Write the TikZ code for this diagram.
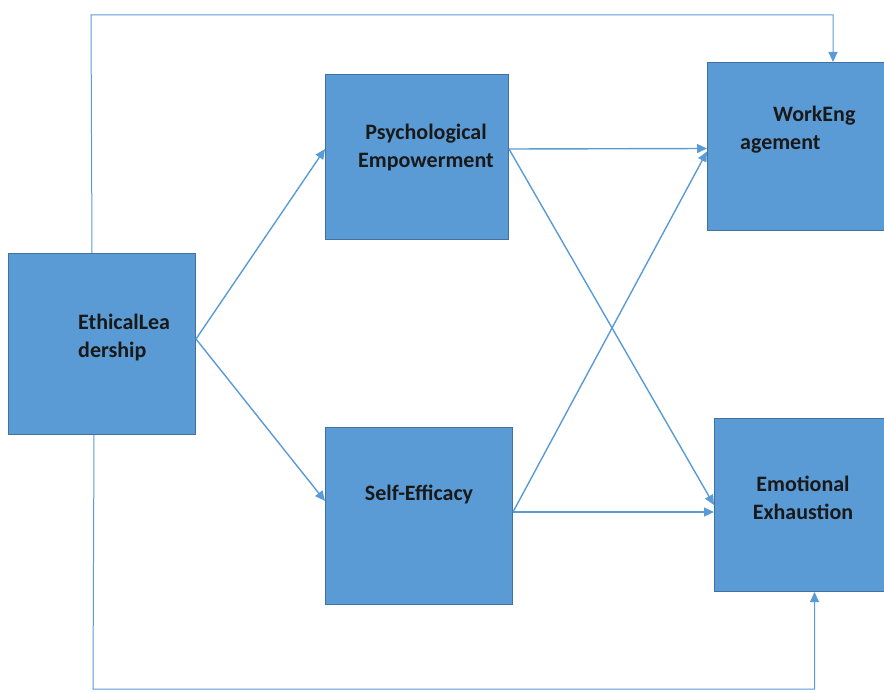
\documentclass[tikz,border=0pt]{standalone}
\usepackage{fontspec}
\setmainfont{Carlito}
\usepackage{tikz}
\usetikzlibrary{arrows.meta,positioning}
\definecolor{BoxFill}{HTML}{5B9BD5}
\definecolor{BoxLine}{HTML}{41719C}
\definecolor{Link}{HTML}{5B9BD5}
\tikzset{box/.style={rectangle,draw=BoxLine,fill=BoxFill,line width=1pt,inner sep=0pt,anchor=north west},lbl/.style={font=\fontsize{22}{28}\selectfont\bfseries,text=black!90,inner sep=0pt},link/.style={-{Triangle[length=10pt,width=9pt]},line width=1.4pt,draw=Link},frame/.style={-{Triangle[length=10pt,width=9pt]},line width=1pt,draw=Link}}
\begin{document}
\begin{tikzpicture}[x=1pt,y=-1pt]
        \useasboundingbox(0,0)rectangle(884,693);
        \node[box,minimum width=187pt,minimum height=181pt](eth)at(8,253){};
        \node[box,minimum width=183pt,minimum height=165pt](psy)at(325,74){};
        \node[box,minimum width=187pt,minimum height=177pt](eff)at(325,427){};
        \node[box,minimum width=183pt,minimum height=168pt](work)at(707,62){};
        \node[box,minimum width=176pt,minimum height=173pt](emo)at(714,418){};
        \node[lbl,align=left,anchor=west](ethT)at(78,338){EthicalLea\\dership};
        \node[lbl,align=center](psyT)at(426,148){Psychological\\Empowerment};
        \node[lbl](effT)at(419,494){Self-Efficacy};
        \node[lbl,align=left,anchor=west](workT)at(740,130){\hspace*{33pt}WorkEng\\agement};
        \node[lbl,align=center](emoT)at(803,498){Emotional\\Exhaustion};
        \coordinate(topc)at(91,15);
        \coordinate(botc)at(93,689);
        \draw[link]([yshift=5pt]eth.east)--([yshift=8pt]psy.west);
        \draw[link]([yshift=5pt]eth.east)--([yshift=15pt]eff.west);
        \draw[link]([yshift=8pt]psy.east)--([yshift=-2pt]work.west);
        \draw[link]([yshift=8pt]psy.east)--(emo.west);
        \draw[link]([yshift=4pt]eff.east)--([yshift=-5pt]work.west);
        \draw[link]([yshift=4pt]eff.east)--([yshift=-7pt]emo.west);
        \draw[frame]([xshift=-10pt]eth.north)--(topc)-|([xshift=34pt]work.north);
        \draw[frame]([xshift=-8pt]eth.south)--(botc)-|([xshift=12pt]emo.south);
      \end{tikzpicture}
\end{document}
